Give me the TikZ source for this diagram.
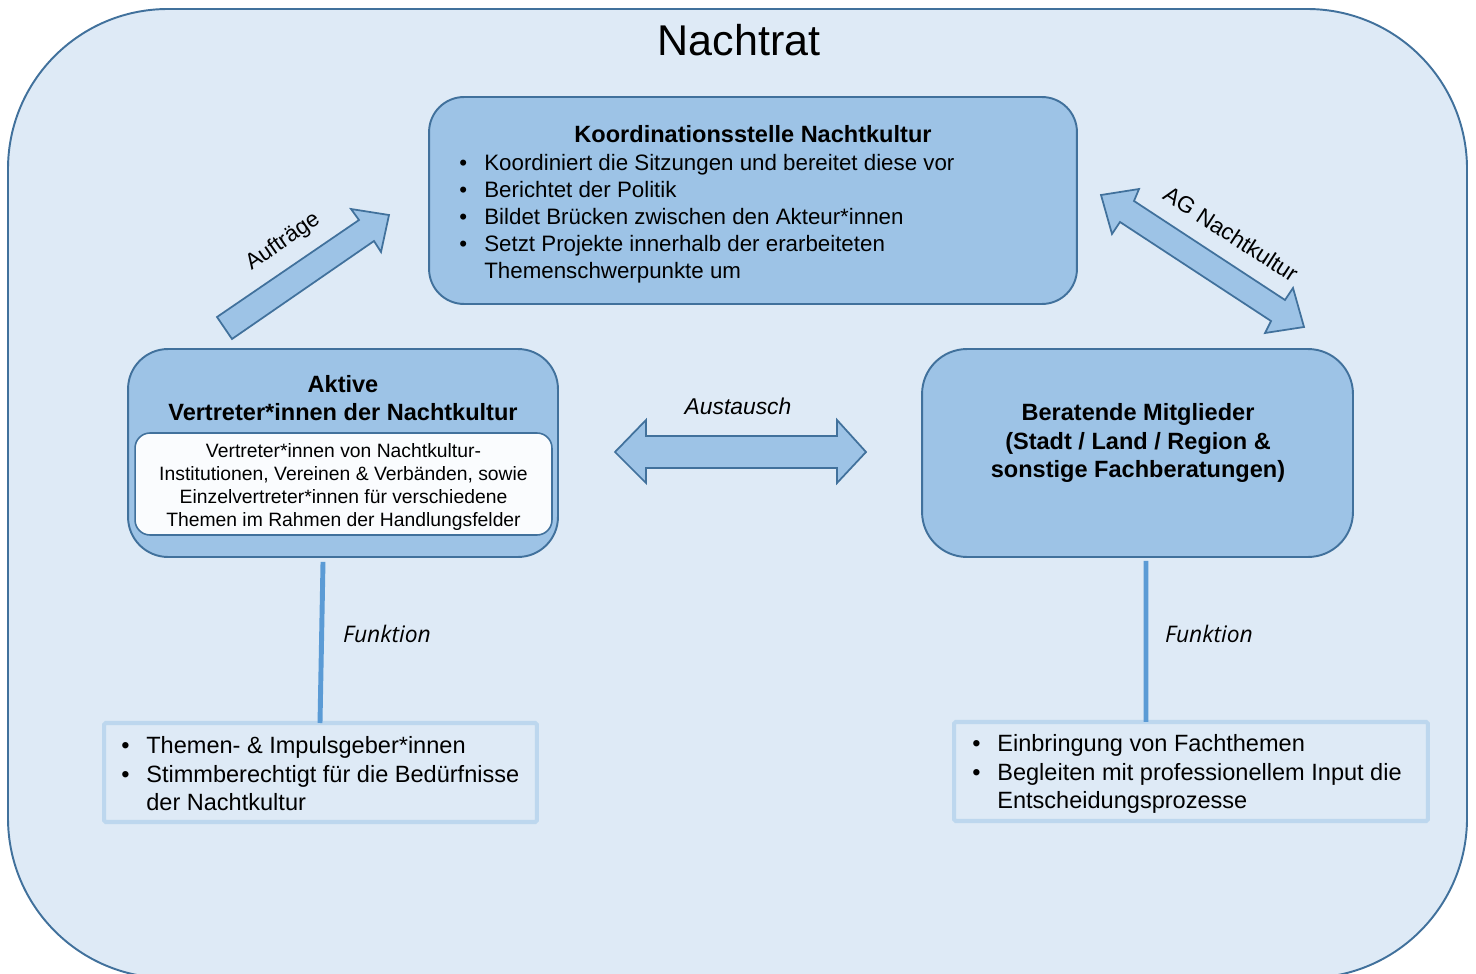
\documentclass[tikz,border=0pt]{standalone}
\usepackage{fontspec}
\setmainfont{Liberation Sans}
\newfontfamily\funkfont{Open Sans}
\usetikzlibrary{calc}
\definecolor{rahmenblau}{HTML}{41719C}
\definecolor{hintergrund}{HTML}{DEEAF6}
\definecolor{kastenblau}{HTML}{9DC3E6}
\definecolor{linienblau}{HTML}{5B9BD5}
\definecolor{hellblau}{HTML}{BDD7EE}
\tikzset{
	kasten/.style={draw=rahmenblau, fill=kastenblau, line width=1.1pt},
	innen/.style={draw=rahmenblau, fill=white!85!hintergrund, line width=0.9pt, rounded corners=0.3cm},
	funkbox/.style={draw=hellblau, line width=2.3pt, rounded corners=1pt},
	pfeil/.style={draw=rahmenblau, fill=kastenblau, line width=1pt},
	verbindung/.style={draw=linienblau, line width=2.8pt},
	liste/.style={anchor=west, inner sep=0pt, align=left},
	beschriftung/.style={inner sep=0pt}
}
\def\grund{\fontsize{12.7}{15.4}\selectfont}
\def\titel{\fontsize{13.4}{15.9}\selectfont\bfseries}
\def\punkt{\makebox[0.5cm][l]{\textbullet}}

\begin{document}
\begin{tikzpicture}[x=0.02cm, y=-0.02cm]
	%%%%% START %%%%%
	\useasboundingbox (0,0) rectangle (1476,973);
	\clip (0,0) rectangle (1476,973);
	
	\draw[fill=hintergrund, draw=rahmenblau, line width=1.1pt, rounded corners=3.2cm] (8,9) rectangle (1467,978);
	\node[beschriftung, font=\fontsize{24.5}{28}\selectfont] (nachtrat) at (739,40) {Nachtrat};
	
	% Koordinationsstelle
	\node[kasten, rounded corners=0.7cm, minimum width=12.96cm, minimum height=4.14cm] (koord) at (753,200.5) {};
	\node[beschriftung, font=\titel] (koordtitel) at (753,134) {Koordinationsstelle Nachtkultur};
	\node[liste, font=\grund] (koordliste) at (459,219) {\punkt Koordiniert die Sitzungen und bereitet diese vor\\
		\punkt Berichtet der Politik\\
		\punkt Bildet Br\"ucken zwischen den Akteur*innen\\
		\punkt Setzt Projekte innerhalb der erarbeiteten\\
		\hspace*{0.5cm}Themenschwerpunkte um};
	
	% Aktive Vertreter*innen
	\node[kasten, rounded corners=0.8cm, minimum width=8.6cm, minimum height=4.16cm] (aktive) at (343,453) {};
	\node[beschriftung, font=\titel, align=center] (aktivetitel) at (343,398) {Aktive\\Vertreter*innen der Nachtkultur};
	\node[innen, minimum width=8.34cm, minimum height=2.04cm] (aktiveinnen) at (343.5,484) {};
	\node[beschriftung, font=\fontsize{11}{13.1}\selectfont, align=center] (aktivetext) at (343.5,487) {Vertreter*innen von Nachtkultur-\\
		Institutionen, Vereinen \& Verb\"anden, sowie\\
		Einzelvertreter*innen f\"ur verschiedene\\
		Themen im Rahmen der Handlungsfelder};
	
	% Beratende Mitglieder
	\node[kasten, rounded corners=0.9cm, minimum width=8.62cm, minimum height=4.16cm] (beratend) at (1137.5,453) {};
	\node[beschriftung, font=\fontsize{13.4}{16}\selectfont\bfseries, align=center] (beratendtext) at (1138,443) {Beratende Mitglieder\\
		(Stadt / Land / Region \&\\
		sonstige Fachberatungen)};
	
	% Funktionen
	\node[funkbox, minimum width=8.66cm, minimum height=1.98cm] (funklinks) at (320.5,772.5) {};
	\node[liste, font=\fontsize{13.4}{16.2}\selectfont] (funklinksliste) at (121,774) {\punkt Themen- \& Impulsgeber*innen\\
		\punkt Stimmberechtigt f\"ur die Bed\"urfnisse\\
		\hspace*{0.5cm}der Nachtkultur};
	\node[funkbox, minimum width=9.48cm, minimum height=1.98cm] (funkrechts) at (1191,771.5) {};
	\node[liste, font=\fontsize{13.4}{16.2}\selectfont] (funkrechtsliste) at (972,774) {\punkt Einbringung von Fachthemen\\
		\punkt Begleiten mit professionellem Input die\\
		\hspace*{0.5cm}Entscheidungsprozesse};
	
	\draw[verbindung] ([xshift=-0.4cm, yshift=-0.08cm]aktive.south) -- ([xshift=-0.01cm, yshift=-0.04cm]funklinks.north);
	\draw[verbindung] ([xshift=0.17cm, yshift=-0.06cm]beratend.south) -- ([xshift=-0.9cm, yshift=-0.04cm]funkrechts.north);
	\node[beschriftung, font=\funkfont\itshape\fontsize{13}{15}\selectfont] (funktext1) at (387,634) {Funktion};
	\node[beschriftung, font=\funkfont\itshape\fontsize{13}{15}\selectfont] (funktext2) at (1209,634) {Funktion};
	
	% Pfeile
	\draw[pfeil] (217,317) -- (359,220) -- (351,209) -- (389,215) -- (381,252) -- (374,241) -- (232,339) -- cycle;
	\node[beschriftung, font=\grund, rotate=34.6] (auftraege) at (283,242) {Auftr\"age};
	
	\draw[pfeil] (1101,195) -- (1112,234) -- (1120,222) -- (1271,321) -- (1265,333) -- (1304,327) -- (1293,288) -- (1285,300) -- (1134,201) -- (1139,189) -- cycle;
	\node[beschriftung, font=\fontsize{13}{15}\selectfont, rotate=-33] (agnacht) at (1231,234) {AG Nachtkultur};
	
	\draw[pfeil] (615,452) -- (646,420) -- (646,436) -- (837,436) -- (837,420) -- (866,452) -- (837,483) -- (837,468) -- (646,468) -- (646,483) -- cycle;
	\node[beschriftung, font=\fontsize{13}{15}\selectfont\itshape] (austausch) at (738,406) {Austausch};
	
	%%%%% END %%%%%
\end{tikzpicture}
\end{document}
